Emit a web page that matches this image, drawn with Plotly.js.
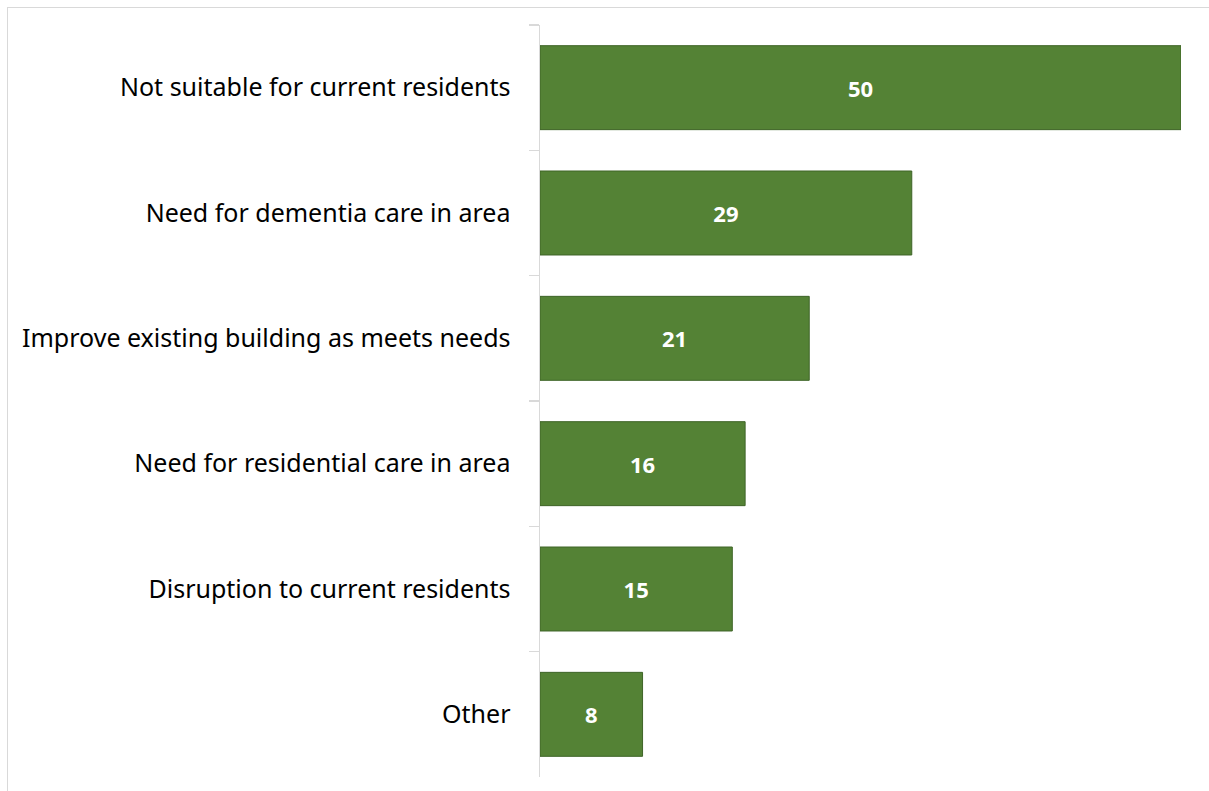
<!DOCTYPE html>
<html><head><meta charset="utf-8">
<script src="https://cdn.plot.ly/plotly-3.0.1.min.js"></script>
<style>
html,body{margin:0;padding:0;background:#fff;overflow:hidden}
#chart{width:1209px;height:791px;position:absolute;left:0;top:0}
#frame{position:absolute;left:7px;top:7px;width:1300px;height:900px;border:1.5px solid #d9d9d9;pointer-events:none}
</style></head>
<body>
<div id="chart"></div>
<div id="frame"></div>
<script>
const categories = ["Not suitable for current residents","Need for dementia care in area","Improve existing building as meets needs","Need for residential care in area","Disruption to current residents","Other"];
const values = [50, 29, 21, 16, 15, 8];

const trace = {
  type: 'bar', orientation: 'h',
  y: categories, x: values,
  text: values.map(String), textposition: 'inside', insidetextanchor: 'middle',
  textfont: {family: 'Noto Sans', size: 22, color: '#ffffff', weight: 'bold'},
  marker: {color: '#548235', line: {color: '#3e6427', width: 1}},
  width: 0.67, hoverinfo: 'none'
};
const layout = {
  width: 1209, height: 791,
  margin: {l: 540, r: 28, t: 25, b: 14, pad: 0},
  paper_bgcolor: 'rgba(0,0,0,0)', plot_bgcolor: 'rgba(0,0,0,0)',
  showlegend: false,
  xaxis: {range: [0, 50], visible: false, fixedrange: true},
  yaxis: {type: 'category', autorange: 'reversed', showline: true, linecolor: '#d9d9d9', linewidth: 1.5,
          ticks: 'outside', tickson: 'boundaries', ticklen: 10, tickcolor: '#d9d9d9', tickwidth: 1.5,
          ticklabelstandoff: 23, showgrid: false, zeroline: false,
          tickfont: {family: 'Noto Sans', size: 25, color: '#000000'}},
  font: {family: 'Noto Sans'}
};
Plotly.newPlot('chart', [trace], layout, {displayModeBar: false, staticPlot: true});
</script>
</body></html>
